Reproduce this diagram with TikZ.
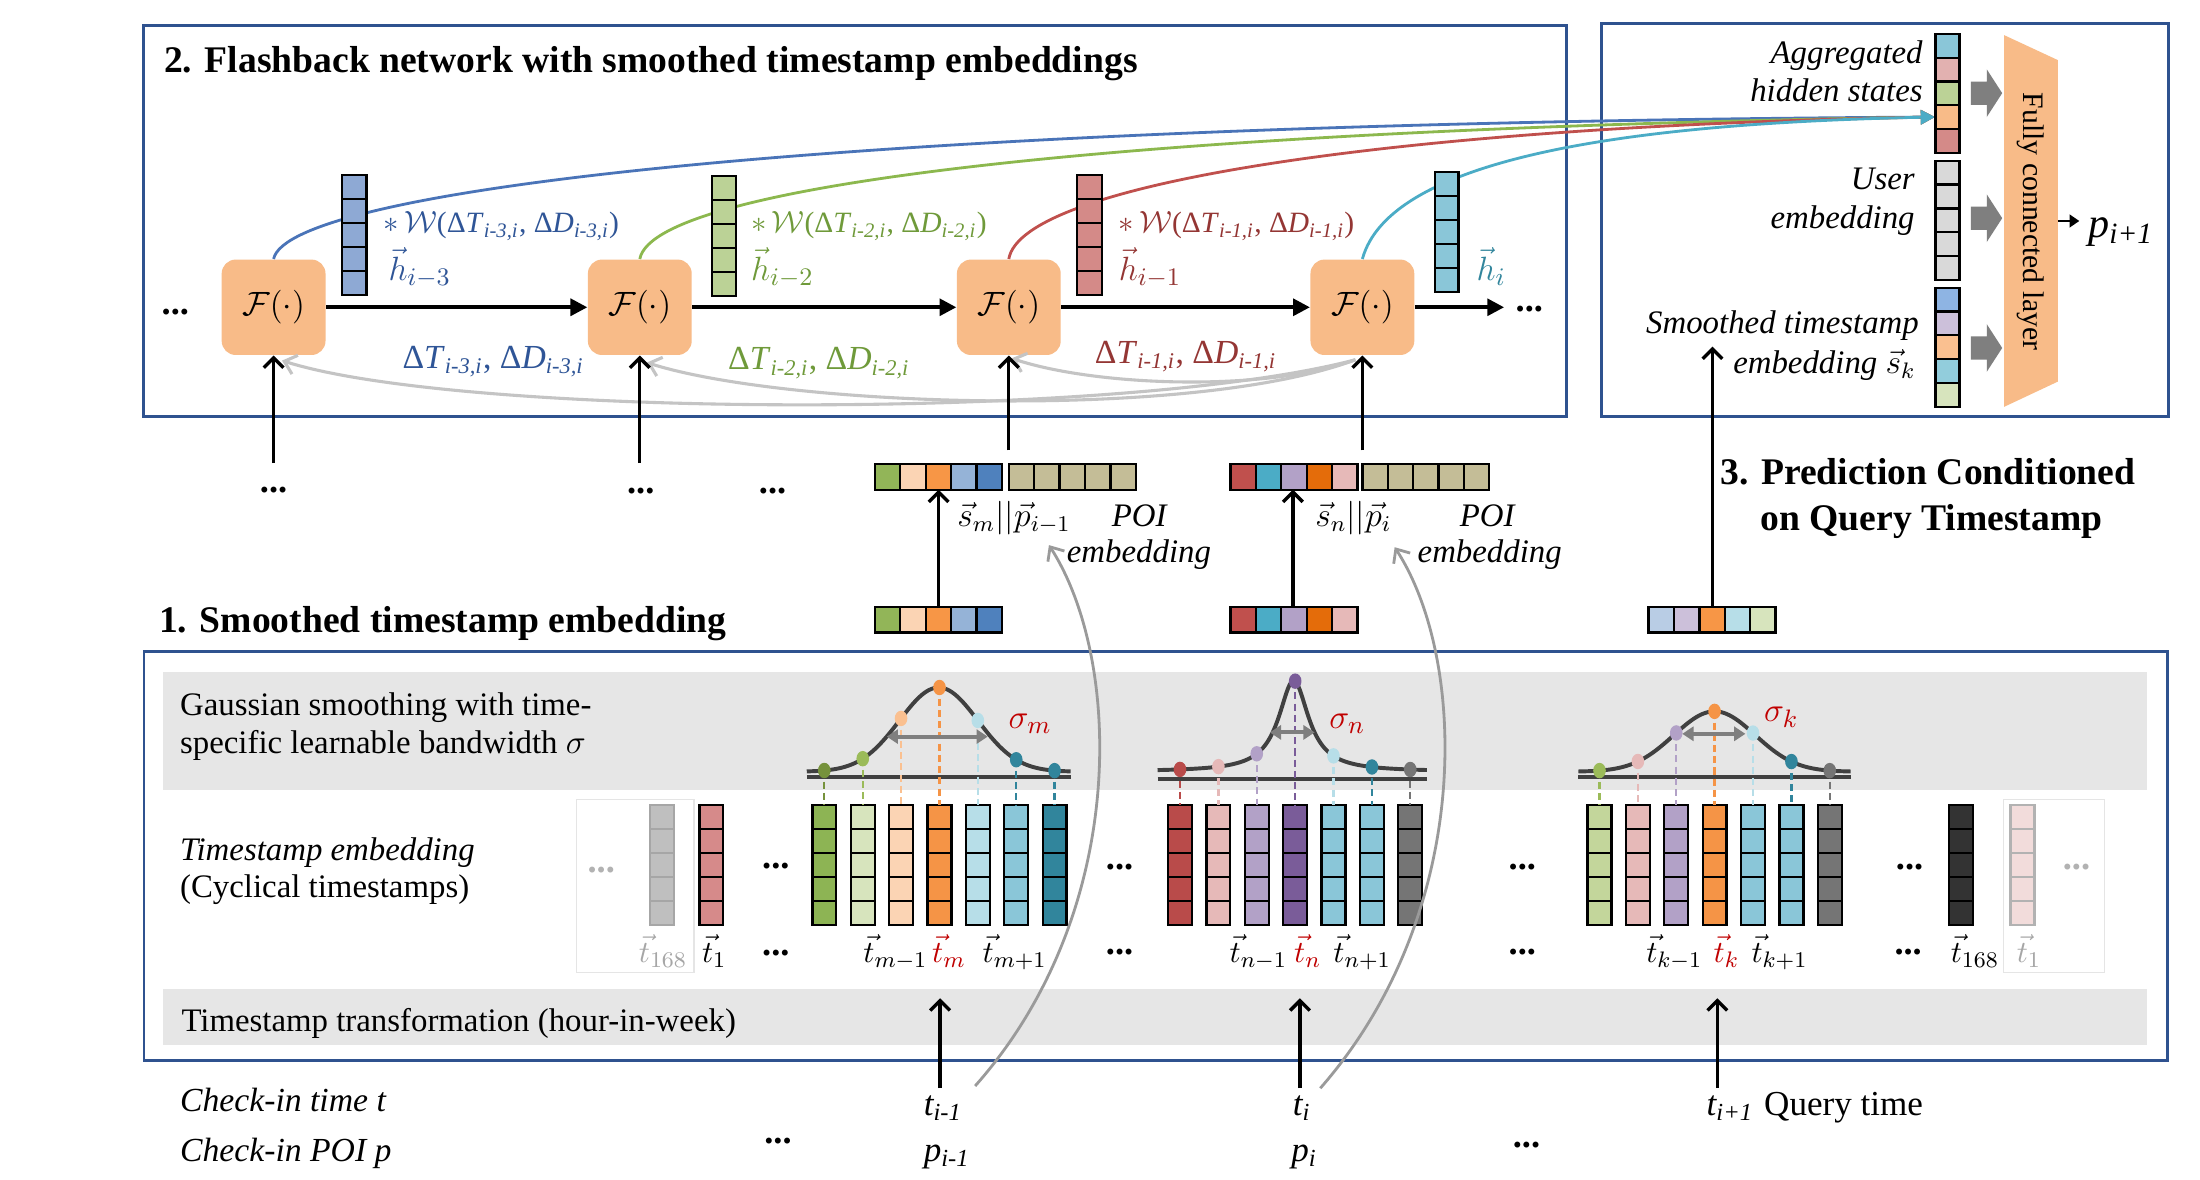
\documentclass[tikz,border=0pt]{standalone}
\usepackage{fontspec}
\setmainfont{Liberation Serif}
\usetikzlibrary{arrows.meta}
\definecolor{boxblue}{HTML}{2F528F}
\definecolor{bandgrey}{HTML}{E6E6E6}
\definecolor{peach}{HTML}{F8BB88}
\definecolor{hblue}{HTML}{8EA9D4}
\definecolor{hgreen}{HTML}{BBD296}
\definecolor{hred}{HTML}{D48A88}
\definecolor{hcyan}{HTML}{8AC6D8}
\definecolor{hpink}{HTML}{E2B1B0}
\definecolor{ugrey}{HTML}{D9D9D9}
\definecolor{tblue}{HTML}{2F5597}
\definecolor{tgreen}{HTML}{6F9A3A}
\definecolor{tred}{HTML}{943634}
\definecolor{tcyan}{HTML}{31859C}
\definecolor{cblue}{HTML}{4A74B8}
\definecolor{cgreen}{HTML}{8CB84E}
\definecolor{cred}{HTML}{C0504D}
\definecolor{ccyan}{HTML}{4BACC6}
\definecolor{gcurve}{HTML}{C4C4C4}
\definecolor{gcurvetwo}{HTML}{9A9A9A}
\definecolor{sigred}{HTML}{C00000}
\definecolor{darkline}{HTML}{404040}
\definecolor{garrow}{HTML}{7F7F7F}
\definecolor{cA}{HTML}{8DB454}
\definecolor{cB}{HTML}{D7E4BD}
\definecolor{cC}{HTML}{FBD4B4}
\definecolor{cD}{HTML}{F59446}
\definecolor{cE}{HTML}{B7DEE8}
\definecolor{cF}{HTML}{8AC6D8}
\definecolor{cG}{HTML}{31859C}
\definecolor{cH}{HTML}{B94B4A}
\definecolor{cI}{HTML}{E6B9B8}
\definecolor{cJ}{HTML}{B2A1C7}
\definecolor{cK}{HTML}{7A5C99}
\definecolor{cL}{HTML}{757575}
\definecolor{cM}{HTML}{C3D69B}
\definecolor{cN}{HTML}{D68A8A}
\definecolor{cO}{HTML}{333333}
\definecolor{cP}{HTML}{F2DCDB}
\definecolor{cQ}{HTML}{BFBFBF}
\definecolor{dA}{HTML}{76923C}
\definecolor{dB}{HTML}{9BBB59}
\definecolor{dC}{HTML}{FAC090}
\definecolor{sA}{HTML}{92B558}
\definecolor{sB}{HTML}{FBD4B4}
\definecolor{sC}{HTML}{F79646}
\definecolor{sD}{HTML}{95B3D7}
\definecolor{sE}{HTML}{4F81BD}
\definecolor{poi}{HTML}{C4BD97}
\definecolor{nA}{HTML}{C0504D}
\definecolor{nB}{HTML}{4BACC6}
\definecolor{nC}{HTML}{B2A1C7}
\definecolor{nD}{HTML}{E46C0A}
\definecolor{nE}{HTML}{E6B9B8}
\definecolor{qA}{HTML}{B9CDE5}
\definecolor{qB}{HTML}{CCC0DA}
\definecolor{qC}{HTML}{F79646}
\definecolor{qD}{HTML}{B7DEE8}
\definecolor{qE}{HTML}{D7E4BD}
\definecolor{kA}{HTML}{8EB4E3}
\definecolor{kB}{HTML}{CCC0DA}
\definecolor{kC}{HTML}{FAC090}
\definecolor{kD}{HTML}{92CDDC}
\definecolor{kE}{HTML}{D7E4BD}
\newcommand\fsz[1]{\fontsize{#1}{#1}\selectfont}
\newcommand\wlab[1]{$\ast\,\mathcal{W}$(Δ\textit{T}\textsubscript{\textit{#1}}, Δ\textit{D}\textsubscript{\textit{#1}})}
\newcommand\dlab[1]{Δ\textit{T}\textsubscript{\textit{#1}}, Δ\textit{D}\textsubscript{\textit{#1}}}
\newcommand\vcells[6]{\foreach \cc [count=\j from 0] in {#6}{\draw[line width=0.8pt,draw=#5,fill=\cc] ({#1-#3/2},{#2+\j*#4}) rectangle ++(#3,#4);}}
\newcommand\hcells[5]{\foreach \cc [count=\j from 0] in {#5}{\draw[line width=0.8pt,fill=\cc] ({#1+\j*#3},{#2}) rectangle ++(#3,#4);}}
\newcommand\tcol[3][black]{\vcells{#2}{573.5}{17}{17.1}{#1}{#3,#3,#3,#3,#3}}
\newcommand\blockarr[1]{\fill[garrow] (1404.6,{#1-8.3}) -- (1416,{#1-8.3}) -- (1416,{#1-17}) -- (1427,{#1}) -- (1416,{#1+17}) -- (1416,{#1+8.3}) -- (1404.6,{#1+8.3}) -- cycle;}
\begin{document}
\begin{tikzpicture}[x=0.5pt,y=-0.5pt,
  lab/.style={inner sep=0,anchor=base west},
  labr/.style={inner sep=0,anchor=base east},
  labc/.style={inner sep=0,anchor=base},
  frame/.style={draw=boxblue,line width=1pt},
  band/.style={fill=bandgrey},
  fnode/.style={fill=peach,rounded corners=5pt,minimum width=37pt,minimum height=34pt,inner sep=0,font=\fsz{13}},
  flow/.style={line width=1.3pt,-{Triangle[length=6pt,width=6pt]}},
  upar/.style={line width=1.2pt,-{Straight Barb[length=3.5pt,width=7pt]}},
  gback/.style={draw=gcurve,line width=1.1pt,-{Straight Barb[length=4pt,width=7pt]}},
  gfwd/.style={draw=gcurvetwo,line width=1pt,-{Straight Barb[length=4pt,width=7pt]}},
  aggc/.style={line width=1pt,-{Triangle[length=5pt,width=5pt]}},
  dotsn/.style={inner sep=0,anchor=base,font=\fsz{13}\bfseries},
  curvel/.style={darkline,line width=1.4pt},
  sarrow/.style={garrow,line width=1.4pt,{Triangle[length=4pt,width=5pt]}-{Triangle[length=4pt,width=5pt]}},
  dline/.style={line width=0.8pt,dash pattern=on 2.5pt off 1.5pt},
  tl/.style={inner sep=0,anchor=base west,font=\fsz{11}},
]
\useasboundingbox (0,0) rectangle (1568,841);
\fill[white] (0,0) rectangle (1568,841);

% ---------------- frames and bands
\draw[frame] (102.5,18) rectangle (1116.5,297);
\draw[frame] (1141.6,17) rectangle (1545.3,297);
\fill[band] (116.5,479) rectangle (1530,563);
\fill[band] (116.5,705) rectangle (1530,745);
\draw[frame] (102.6,464.5) rectangle (1545,756);

% ---------------- titles
\node[lab,font=\fsz{13.4}\bfseries] (title2) at (116.6,52) {2. Flashback network with smoothed timestamp embeddings};
\node[lab,font=\fsz{13.4}\bfseries] (title1) at (113,451) {1. Smoothed timestamp embedding};
\node[labc,font=\fsz{13.4}\bfseries] (title3a) at (1374,345.6) {3. Prediction Conditioned};
\node[labc,font=\fsz{13.4}\bfseries] (title3b) at (1376.5,377.8) {on Query Timestamp};

% ---------------- Flashback network
\node[fnode] (F1) at (195,219) {$\mathcal{F}(\cdot)$};
\node[fnode] (F2) at (456,219) {$\mathcal{F}(\cdot)$};
\node[fnode] (F3) at (719,219) {$\mathcal{F}(\cdot)$};
\node[fnode] (F4) at (971,219) {$\mathcal{F}(\cdot)$};

\coordinate (aggin) at (1379,83.4);
\draw[aggc,cblue] (F1.north) .. controls (205,135) and (600,88) .. (aggin);
\draw[aggc,cgreen] (F2.north) .. controls (466,130) and (820,92) .. (aggin);
\draw[aggc,cred] (F3.north) .. controls (728,130) and (1000,90) .. (aggin);
\draw[aggc,ccyan] (F4.north) .. controls (990,115) and (1150,88) .. (aggin);

\vcells{252.5}{124.7}{17.4}{17.06}{black}{hblue,hblue,hblue,hblue,hblue}
\vcells{515.9}{125.5}{17.4}{17.06}{black}{hgreen,hgreen,hgreen,hgreen,hgreen}
\vcells{776.5}{124.7}{17.4}{17.06}{black}{hred,hred,hred,hred,hred}
\vcells{1031}{122.8}{17}{17.06}{black}{hcyan,hcyan,hcyan,hcyan,hcyan}

\node[lab,text=tblue,font=\fsz{10.5}] (w1) at (273,166) {\wlab{i-3,i}};
\node[lab,text=tblue,font=\fsz{12.5}] (h1) at (276.5,199.6) {$\vec{h}_{i-3}$};
\node[lab,text=tgreen,font=\fsz{10.5}] (w2) at (535,166) {\wlab{i-2,i}};
\node[lab,text=tgreen,font=\fsz{12.5}] (h2) at (535,199.6) {$\vec{h}_{i-2}$};
\node[lab,text=tred,font=\fsz{10.5}] (w3) at (797,166) {\wlab{i-1,i}};
\node[lab,text=tred,font=\fsz{12.5}] (h3) at (797,199.6) {$\vec{h}_{i-1}$};
\node[lab,text=tcyan,font=\fsz{12.5}] (h4) at (1052,199.6) {$\vec{h}_{i}$};

\node[lab,text=tblue,font=\fsz{12}] (d1) at (286.5,262.4) {\dlab{i-3,i}};
\node[lab,text=tgreen,font=\fsz{12}] (d2) at (518.6,263.7) {\dlab{i-2,i}};
\node[lab,text=tred,font=\fsz{12}] (d3) at (780,258.8) {\dlab{i-1,i}};

\node[dotsn] (dl) at (125,224) {...};
\draw[flow] (F1.east) -- (F2.west);
\draw[flow] (F2.east) -- (F3.west);
\draw[flow] (F3.east) -- (F4.west);
\coordinate (Fend) at (1072,219);
\draw[flow] (F4.east) -- (Fend);
\node[dotsn] (dr) at (1090,222) {...};

\draw[gback] ([xshift=-2.5pt,yshift=-1.5pt]F4.south) .. controls (900,280) and (780,275) .. ([xshift=1pt,yshift=-1pt]F3.south);
\draw[gback] ([xshift=-2.5pt,yshift=-1.5pt]F4.south) .. controls (850,300) and (560,290) .. ([xshift=2.5pt,yshift=-2.5pt]F2.south);
\draw[gback] ([xshift=-2.5pt,yshift=-1.5pt]F4.south) .. controls (800,300) and (330,298) .. ([xshift=3pt,yshift=-1.8pt]F1.south);

\coordinate (in1) at (195,330);
\coordinate (in2) at (456,330);
\coordinate (in3) at (719,321);
\coordinate (in4) at (971,321);
\draw[upar] (in1) -- (F1.south);
\draw[upar] (in2) -- (F2.south);
\draw[upar] (in3) -- (F3.south);
\draw[upar] (in4) -- (F4.south);
\node[dotsn] (db1) at (195,351) {...};
\node[dotsn] (db2) at (456.7,352) {...};
\node[dotsn] (db3) at (550.7,352) {...};

% ---------------- prediction box
\vcells{1388}{24.2}{17}{16.96}{black}{hcyan,hpink,hgreen,peach,hred}
\vcells{1388}{114.5}{17}{17.02}{black}{ugrey,ugrey,ugrey,ugrey,ugrey}
\vcells{1388}{205}{17}{17}{black}{kA,kB,kC,kD,kE}
\blockarr{66.4}
\blockarr{155.5}
\blockarr{248}
\fill[peach] (1428.3,25) -- (1466.6,42.8) -- (1466.6,272) -- (1428.3,290) -- cycle;
\node[rotate=-90,font=\fsz{10.6},inner sep=0] (fc) at (1447,158) {Fully connected layer};
\coordinate (fcr) at (1466.6,157.5);
\coordinate (pa) at (1482,157.5);
\draw[line width=1pt,-{Triangle[length=3.5pt,width=4.5pt]}] (fcr) -- (pa);
\node[lab,font=\fsz{15}] (pout) at (1488,169) {\textit{p}\textsubscript{\textit{i+1}}};
\node[labr,font=\fsz{11.7}\itshape] (ag1) at (1370.7,45) {Aggregated};
\node[labr,font=\fsz{11.7}\itshape] (ag2) at (1370.7,72.5) {hidden states};
\node[labr,font=\fsz{11.7}\itshape] (ue1) at (1365,135.4) {User};
\node[labr,font=\fsz{11.7}\itshape] (ue2) at (1365,162.6) {embedding};
\node[labr,font=\fsz{11.7}\itshape] (st1) at (1368,237.5) {Smoothed timestamp};
\node[labr,font=\fsz{11.7}\itshape] (st2) at (1365.6,266) {embedding $\vec{s}_k$};

% ---------------- concatenated inputs
\hcells{623.6}{330.7}{18.1}{18.3}{sA,sB,sC,sD,sE}
\hcells{719}{330.7}{18.1}{18.3}{poi,poi,poi,poi,poi}
\hcells{623.6}{432.5}{18.1}{18.3}{sA,sB,sC,sD,sE}
\hcells{877}{330.7}{18.1}{18.3}{nA,nB,nC,nD,nE}
\hcells{971}{330.7}{18.1}{18.3}{poi,poi,poi,poi,poi}
\hcells{877}{432.5}{18.1}{18.3}{nA,nB,nC,nD,nE}
\hcells{1175}{432.5}{18.1}{18.3}{qA,qB,qC,qD,qE}
\coordinate (smlow) at (669,432.5);
\coordinate (smup) at (669,349);
\coordinate (snlow) at (921.5,432.5);
\coordinate (snup) at (921.5,349);
\coordinate (qlow) at (1220.5,432.5);
\coordinate (qup) at (1220.5,247);
\draw[upar] (smlow) -- (smup);
\draw[upar] (snlow) -- (snup);
\draw[upar] (qlow) -- (qup);
\node[lab,font=\fsz{12}] (smlab) at (682,375.5) {$\vec{s}_m||\vec{p}_{i-1}$};
\node[lab,font=\fsz{12}] (snlab) at (937,375.5) {$\vec{s}_n||\vec{p}_{i}$};
\node[lab,font=\fsz{11.7}\itshape] (poi1) at (792,375.5) {POI};
\node[lab,font=\fsz{11.7}\itshape] (emb1) at (760,401) {embedding};
\node[lab,font=\fsz{11.7}\itshape] (poi2) at (1040,375.5) {POI};
\node[lab,font=\fsz{11.7}\itshape] (emb2) at (1010,401) {embedding};

% ---------------- smoothed timestamp embedding box
\node[lab,font=\fsz{11.7}] (g1) at (128,510) {Gaussian smoothing with time-};
\node[lab,font=\fsz{11.7}] (g2) at (128,537) {specific learnable bandwidth $\sigma$};
\node[lab,font=\fsz{11.7}\itshape] (te1) at (128,613) {Timestamp embedding};
\node[lab,font=\fsz{11.7}] (te2) at (128,640) {(Cyclical timestamps)};
\node[lab,font=\fsz{11.7}] (tt) at (129,735.5) {Timestamp transformation (hour-in-week)};

\draw[black!10,line width=0.4pt] (410.6,570) rectangle (494.6,693);
\draw[black!10,line width=0.4pt] (1428,570) rectangle (1500,693);

\tcol[black!35]{471.8}{cQ}
\tcol{507}{cN}
\tcol{587.5}{cA}
\tcol{614.9}{cB}
\tcol{642.2}{cC}
\tcol{669.6}{cD}
\tcol{696.9}{cE}
\tcol{724.3}{cF}
\tcol{751.6}{cG}
\tcol{841}{cH}
\tcol{868.4}{cI}
\tcol{895.7}{cJ}
\tcol{923.1}{cK}
\tcol{950.4}{cF}
\tcol{977.8}{cF}
\tcol{1005.1}{cL}
\tcol{1140}{cM}
\tcol{1167.35}{cI}
\tcol{1194.7}{cJ}
\tcol{1222}{cD}
\tcol{1249.4}{cF}
\tcol{1276.8}{cF}
\tcol{1304.1}{cL}
\tcol{1397.5}{cO}
\tcol[black!30]{1441.5}{cP}

% gaussian m
\draw[curvel] (575,554) -- (763,554);
\draw[curvel] plot[domain=575:763,samples=90] (\x,{550-60*exp(-(\x-669)*(\x-669)/1568)});
\foreach \xx/\cc in {587.5/dA,614.9/dB,642.2/dC,669.6/cD,696.9/cE,724.3/cG,751.6/cG}{
  \pgfmathsetmacro\yy{550-60*exp(-(\xx-669)*(\xx-669)/1568)}
  \draw[dline,\cc] (\xx,\yy) -- (\xx,573.5);
  \fill[\cc] (\xx,\yy) ellipse[x radius=4.5,y radius=5.5];
}
\draw[sarrow] (632,525) -- (704,525);
\node[lab,font=\fsz{12.5},text=sigred] (sigm) at (718.5,519) {$\sigma_m$};

% gaussian n
\draw[curvel] (825,555) -- (1017,555);
\draw[curvel] plot[domain=825:1017,samples=160] (\x,{550-65/(1+(\x-922)*(\x-922)/169)});
\foreach \xx/\cc in {841/cH,868.4/cI,895.7/cJ,923.1/cK,950.4/cE,977.8/cG,1005.1/cL}{
  \pgfmathsetmacro\yy{550-65/(1+(\xx-922)*(\xx-922)/169)}
  \draw[dline,\cc] (\xx,\yy) -- (\xx,573.5);
  \fill[\cc] (\xx,\yy) ellipse[x radius=4.5,y radius=5.5];
}
\draw[sarrow] (905,522) -- (937,522);
\node[lab,font=\fsz{12.5},text=sigred] (sign) at (947,519) {$\sigma_n$};

% gaussian k
\draw[curvel] (1125,554) -- (1319,554);
\draw[curvel] plot[domain=1125:1319,samples=100] (\x,{550-43*exp(-(\x-1222)*(\x-1222)/1682)});
\foreach \xx/\cc in {1140/dB,1167.35/cI,1194.7/cJ,1222/cD,1249.4/cE,1276.8/cG,1304.1/cL}{
  \pgfmathsetmacro\yy{550-43*exp(-(\xx-1222)*(\xx-1222)/1682)}
  \draw[dline,\cc] (\xx,\yy) -- (\xx,573.5);
  \fill[\cc] (\xx,\yy) ellipse[x radius=4.5,y radius=5.5];
}
\draw[sarrow] (1199,523) -- (1244,523);
\node[lab,font=\fsz{12.5},text=sigred] (sigk) at (1257,514.5) {$\sigma_k$};

% dots in the embedding row
\node[dotsn,text=black!30] (e0) at (428.5,622) {...};
\node[dotsn] (e1) at (553,619) {...};
\node[dotsn] (e2) at (553,681) {...};
\node[dotsn] (e3) at (798,620) {...};
\node[dotsn] (e4) at (798,680) {...};
\node[dotsn] (e5) at (1085,620) {...};
\node[dotsn] (e6) at (1085,680) {...};
\node[dotsn] (e7) at (1361,620) {...};
\node[dotsn] (e8) at (1360,680) {...};
\node[dotsn,text=black!30] (e9) at (1480,620) {...};

% column labels
\node[tl,text=black!35] (l168a) at (455,686) {$\vec{t}_{168}$};
\node[tl] (l1a) at (500,686) {$\vec{t}_{1}$};
\node[tl] (lm1) at (615,686) {$\vec{t}_{m-1}$};
\node[tl,text=sigred] (lm) at (664,686) {$\vec{t}_{m}$};
\node[tl] (lm2) at (700,686) {$\vec{t}_{m+1}$};
\node[tl] (ln1) at (876,686) {$\vec{t}_{n-1}$};
\node[tl,text=sigred] (ln) at (922,686) {$\vec{t}_{n}$};
\node[tl] (ln2) at (950,686) {$\vec{t}_{n+1}$};
\node[tl] (lk1) at (1173,686) {$\vec{t}_{k-1}$};
\node[tl,text=sigred] (lk) at (1221,686) {$\vec{t}_{k}$};
\node[tl] (lk2) at (1248,686) {$\vec{t}_{k+1}$};
\node[tl] (l168b) at (1390,686) {$\vec{t}_{168}$};
\node[tl,text=black!35] (l1b) at (1437,686) {$\vec{t}_{1}$};

% ---------------- bottom inputs
\node[lab,font=\fsz{12}\itshape] (cit) at (128,792.5) {Check-in time t};
\node[lab,font=\fsz{12}\itshape] (cip) at (128,828) {Check-in POI p};
\node[dotsn] (bd1) at (554.5,815) {...};
\node[dotsn] (bd2) at (1088,818) {...};
\node[lab,font=\fsz{12.5}\itshape] (ti1) at (658,795) {t\textsubscript{i-1}};
\node[lab,font=\fsz{12.5}\itshape] (pi1) at (658,828) {p\textsubscript{i-1}};
\node[lab,font=\fsz{12.5}\itshape] (ti) at (921,795) {t\textsubscript{i}};
\node[lab,font=\fsz{12.5}\itshape] (pi) at (920,828) {p\textsubscript{i}};
\node[lab,font=\fsz{12.5}\itshape] (ti2) at (1216,795) {t\textsubscript{i+1}};
\node[lab,font=\fsz{12.5}] (qt) at (1257,795) {Query time};

\coordinate (a1s) at (670,775.6);
\coordinate (a1e) at (670,711.5);
\coordinate (a2s) at (926.5,775.6);
\coordinate (a2e) at (926.5,711.5);
\coordinate (a3s) at (1224,775.6);
\coordinate (a3e) at (1224,711.5);
\draw[upar] (a1s) -- (a1e);
\draw[upar] (a2s) -- (a2e);
\draw[upar] (a3s) -- (a3e);

\coordinate (pA) at (695,774);
\coordinate (pAe) at (747.6,388.5);
\coordinate (pB) at (941,775.6);
\coordinate (pBe) at (994,390);
\draw[gfwd] (pA) .. controls (805,650) and (800,470) .. (pAe);
\draw[gfwd] (pB) .. controls (1051,650) and (1046,470) .. (pBe);
\end{tikzpicture}
\end{document}
